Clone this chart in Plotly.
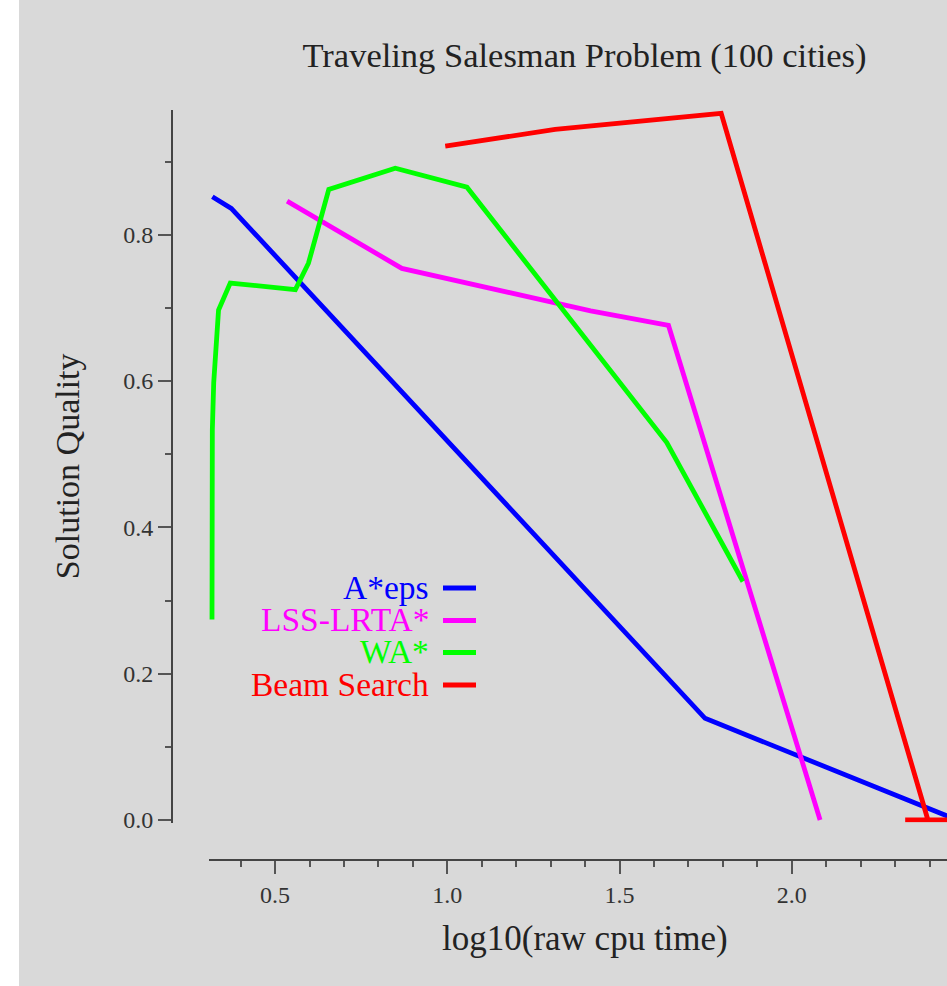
import plotly.graph_objects as go

# ---------------- data ----------------
title_text = "Traveling Salesman Problem (100 cities)"
x_title = "log10(raw cpu time)"
y_title = "Solution Quality"

series_names = ["A*eps", "LSS-LRTA*", "WA*", "Beam Search"]
series_colors = ["#0000ff", "#ff00ff", "#00ff00", "#ff0000"]

aeps_x = [0.318, 0.373, 1.748, 2.48]
aeps_y = [0.852, 0.836, 0.139, 0.0]

lss_x = [0.535, 0.868, 1.416, 1.642, 2.082]
lss_y = [0.846, 0.754, 0.696, 0.676, 0.0]

wa_x = [0.317, 0.318, 0.322, 0.336, 0.370, 0.559, 0.597, 0.656, 0.849, 1.057, 1.637, 1.858]
wa_y = [0.274, 0.533, 0.598, 0.697, 0.734, 0.725, 0.761, 0.862, 0.891, 0.865, 0.516, 0.326]

beam_x = [0.994, 1.313, 1.795, 2.395, 2.329, 2.55]
beam_y = [0.921, 0.944, 0.966, 0.0, 0.0, 0.0]

x_range = [0.3083, 2.4504]
y_range = [-0.0036, 0.9705]
x_major, x_minor = 0.5, 0.1
y_major, y_minor = 0.2, 0.1

series_x = [aeps_x, lss_x, wa_x, beam_x]
series_y = [aeps_y, lss_y, wa_y, beam_y]

# ---------------- layout geometry (pixels) ----------------
W, H = 947, 986
L, R, T, B = 172, 0, 110, 126
pw = W - L - R
ph = H - T - B


def fx(px):
    return (px - L) / pw


def fy(py):
    return (H - B - py) / ph


FONT = "Liberation Serif"
BG = "#d9d9d9"
LW = 4.8

fig = go.Figure()
for name, color, xs, ys in zip(series_names, series_colors, series_x, series_y):
    fig.add_trace(go.Scatter(x=xs, y=ys, mode="lines", name=name,
                             line=dict(color=color, width=LW),
                             showlegend=False))

# custom legend: right-aligned coloured labels with line samples on the right
legend_y_px = [588, 620.5, 652.5, 685]
shapes = [
    # white strip at the far left of the page
    dict(type="rect", xref="paper", yref="paper", x0=fx(-5), x1=fx(19),
         y0=fy(H + 5), y1=fy(-5), fillcolor="white", line=dict(width=0),
         layer="below"),
]
annotations = []
for name, color, py in zip(series_names, series_colors, legend_y_px):
    annotations.append(dict(text=name, x=fx(431), y=fy(py - 1), xref="paper", yref="paper",
                            xanchor="right", yanchor="middle", showarrow=False,
                            font=dict(family=FONT, size=33.5, color=color)))
    shapes.append(dict(type="line", xref="paper", yref="paper",
                       x0=fx(443), x1=fx(476), y0=fy(py), y1=fy(py),
                       line=dict(color=color, width=LW)))

# x-axis title, centred where the reference puts it
annotations.append(dict(text=x_title, x=fx(584.5), y=fy(938), xref="paper", yref="paper",
                        xanchor="center", yanchor="middle", showarrow=False,
                        font=dict(family=FONT, size=35, color="#222")))

axis_common = dict(
    showline=True, linecolor="#444", linewidth=2,
    ticks="outside", ticklen=13, tickwidth=1.5, tickcolor="#555",
    showgrid=False, zeroline=False, tickformat=".1f",
    tickfont=dict(family=FONT, size=24, color="#333"),
    anchor="free", position=0,
)

fig.update_layout(
    width=W, height=H,
    margin=dict(l=L, r=R, t=T, b=B, pad=0),
    paper_bgcolor=BG, plot_bgcolor=BG,
    showlegend=False,
    title=dict(text=title_text, x=fx(584.5), xref="paper", xanchor="center",
               y=1 - 55 / H, yref="container", yanchor="middle",
               font=dict(family=FONT, size=34.5, color="#222")),
    xaxis=dict(axis_common, domain=[fx(209), 1], range=x_range,
               tick0=0, dtick=x_major,
               minor=dict(dtick=x_minor, tick0=0, ticks="outside", ticklen=6,
                          tickwidth=1.5, tickcolor="#555")),
    yaxis=dict(axis_common, domain=[fy(822.6), 1], range=y_range,
               tick0=0, dtick=y_major,
               minor=dict(dtick=y_minor, tick0=0, ticks="outside", ticklen=6,
                          tickwidth=1.5, tickcolor="#555"),
               title=dict(text=y_title, standoff=32,
                          font=dict(family=FONT, size=34, color="#222"))),
    shapes=shapes,
    annotations=annotations,
)

fig.write_html("out.html", config={"displayModeBar": False},
               post_script="document.body.style.margin='0';document.body.style.overflow='hidden';")
